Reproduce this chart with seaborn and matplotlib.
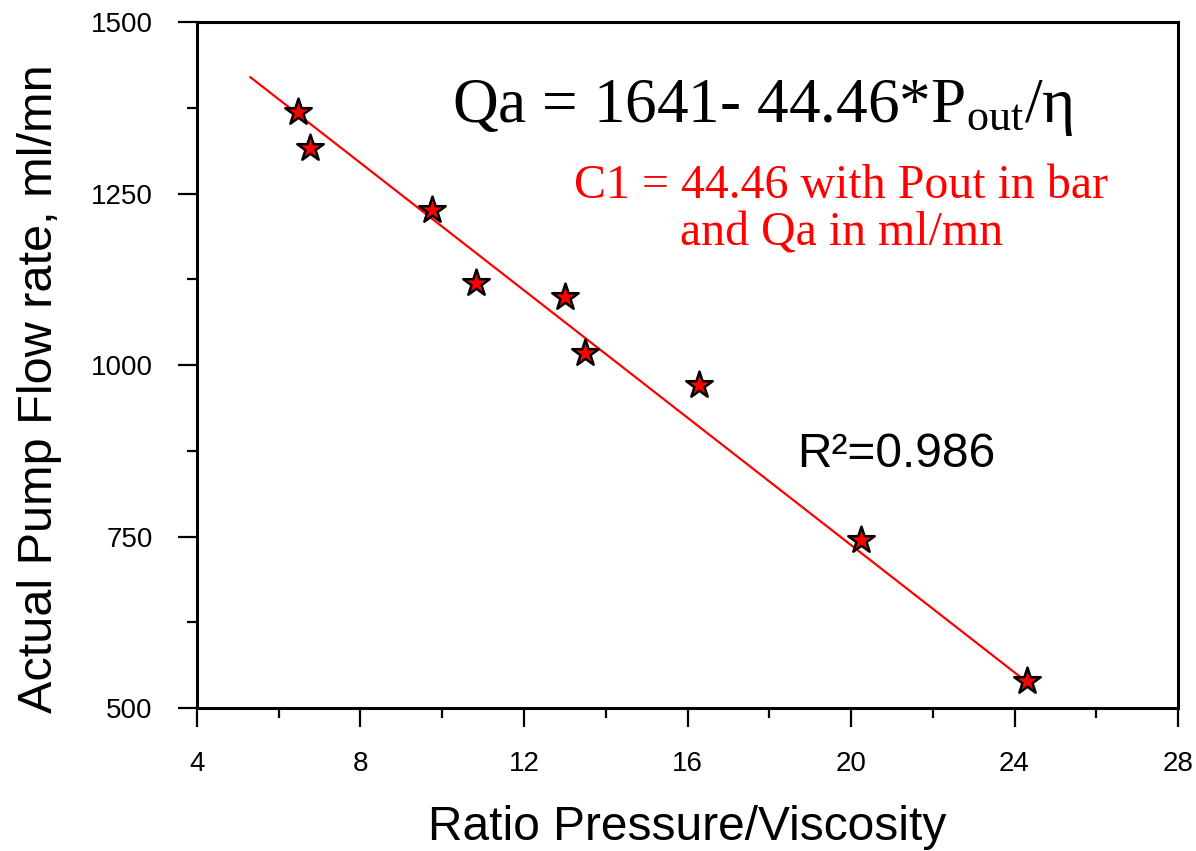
import numpy as np
import pandas as pd
import matplotlib
matplotlib.use("Agg")
import matplotlib.pyplot as plt
import seaborn as sns
from matplotlib.ticker import MultipleLocator

# --- data
ratio = [6.48, 6.77, 9.74, 10.82, 13.0, 13.5, 16.27, 20.25, 24.3]
flow = [1369, 1316, 1226, 1120, 1099, 1017, 971, 745, 539]

fit_x = [5.30, 24.45]
fit_y = [1420, 531]

df = pd.DataFrame({"ratio": ratio, "flow": flow})
fit = pd.DataFrame({"x": fit_x, "y": fit_y})

sns.set_style("ticks")
plt.rcParams["font.family"] = ["Liberation Sans", "DejaVu Sans"]
plt.rcParams["text.color"] = "black"
plt.rcParams["axes.labelcolor"] = "black"
plt.rcParams["xtick.color"] = "black"
plt.rcParams["ytick.color"] = "black"
plt.rcParams["mathtext.fontset"] = "custom"
plt.rcParams["mathtext.rm"] = "Liberation Serif"
plt.rcParams["mathtext.it"] = "Liberation Serif:italic"

fig = plt.figure(figsize=(11.96, 8.51), dpi=100)
ax = fig.add_axes([0.1647, 0.168, 0.8203, 0.806])

sns.lineplot(data=fit, x="x", y="y", color="red", lw=1.6, ax=ax)
sns.scatterplot(data=df, x="ratio", y="flow", marker="*", s=400,
                color="red", edgecolor="black", linewidth=1.8, ax=ax, zorder=3)

ax.set_xlim(4, 28)
ax.set_ylim(500, 1500)
ax.xaxis.set_major_locator(MultipleLocator(4))
ax.xaxis.set_minor_locator(MultipleLocator(2))
ax.yaxis.set_major_locator(MultipleLocator(250))
ax.yaxis.set_minor_locator(MultipleLocator(125))
ax.tick_params(which="major", length=14, width=1.6, labelsize=20, direction="out",
               top=False, right=False)
ax.tick_params(axis="x", which="major", pad=17)
ax.tick_params(axis="y", which="major", pad=18)
ax.tick_params(which="minor", length=7, width=1.6, direction="out", top=False, right=False)
for sp in ax.spines.values():
    sp.set_linewidth(2.2)
    sp.set_color("black")

ax.set_xlabel("Ratio Pressure/Viscosity", fontsize=34.5, labelpad=20)
ax.set_ylabel("Actual Pump Flow rate, ml/mn", fontsize=35)
ax.yaxis.set_label_coords(-0.1376, 0.466)

ax.text(10.24, 1354, r"Qa = 1641- 44.46*P$_{\rm out}$/η", fontsize=45.5,
        family=["Liberation Serif", "DejaVu Serif"], ha="left", va="baseline")
ax.text(19.76, 1226, "C1 = 44.46 with Pout in bar\nand Qa in ml/mn", fontsize=34.5,
        family=["Liberation Serif", "DejaVu Serif"], color="red",
        ha="center", va="center", multialignment="center", linespacing=1.1)
ax.text(18.68, 869, "R²=0.986", fontsize=34.5, ha="left", va="center")

fig.savefig("out.png", dpi=100)
